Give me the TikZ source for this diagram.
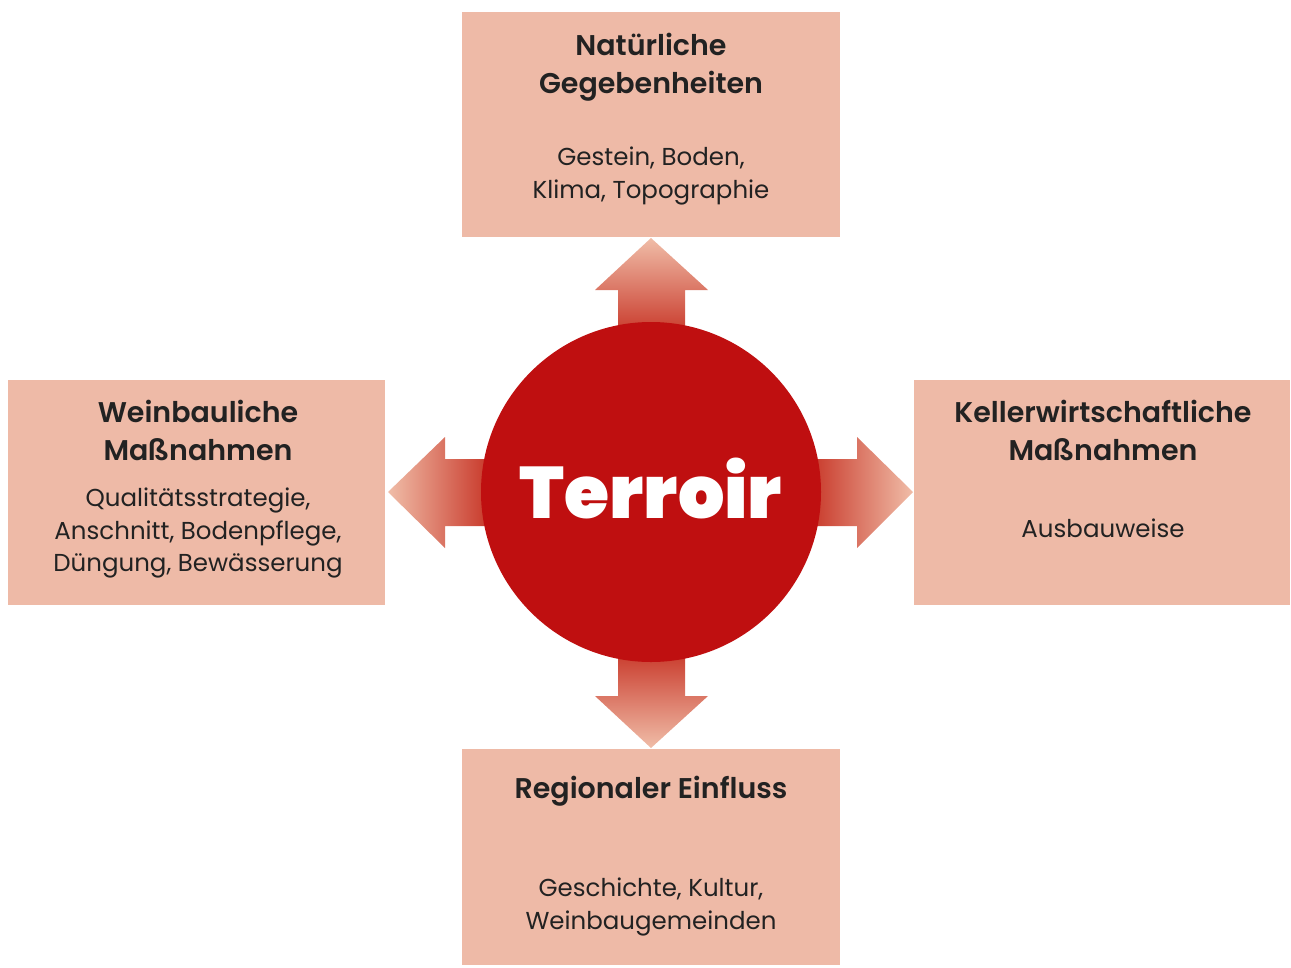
\documentclass[tikz,border=0pt]{standalone}
\usepackage{fontspec}
\setmainfont{Poppins}
\newfontfamily\medfont{Poppins SemiBold}
\newfontfamily\blackfont{Poppins Black}
\definecolor{boxfill}{HTML}{EEBAA7}
\definecolor{circfill}{HTML}{BF0F10}
\definecolor{txt}{HTML}{222222}
\definecolor{arrlight}{HTML}{F0BDA8}
\definecolor{arrdark}{HTML}{C42A1C}
\tikzset{
  box/.style={fill=boxfill, draw=none},
  title/.style={text=txt, align=center, font=\medfont\fontsize{28.5}{38}\selectfont, inner sep=0pt},
  sub/.style={text=txt, align=center, font=\fontsize{24.5}{32.5}\selectfont, inner sep=0pt},
}
\begin{document}
\begin{tikzpicture}[x=1pt,y=-1pt]
\useasboundingbox (0,0) rectangle (1291,967);
% boxes
\fill[box] (462,12) rectangle (840,237);
\fill[box] (8,380) rectangle (385,605);
\fill[box] (914,380) rectangle (1290,605);
\fill[box] (462,749) rectangle (840,965);
% arrows
\shade[top color=arrlight, bottom color=arrdark]
  (618,345) -- (618,290) -- (595,290) -- (651,238) -- (708,290) -- (685,290) -- (685,345) -- cycle;
\shade[bottom color=arrlight, top color=arrdark]
  (618,640) -- (618,696) -- (595,696) -- (651,748) -- (708,696) -- (685,696) -- (685,640) -- cycle;
\shade[left color=arrlight, right color=arrdark]
  (500,459) -- (445,459) -- (445,437) -- (388,492) -- (445,548) -- (445,526) -- (500,526) -- cycle;
\shade[right color=arrlight, left color=arrdark]
  (800,459) -- (857,459) -- (857,437) -- (913,492) -- (857,548) -- (857,526) -- (800,526) -- cycle;
% circle
\node[circle, fill=circfill, minimum size=340pt, inner sep=0pt] (terroir) at (651,492) {};
\node[text=white, font=\blackfont\fontsize{73}{73}\selectfont, inner sep=0pt] (tlabel) at (651,488) {Terroir};
% texts
\node[title] (t1) at (651,67) {Natürliche\\Gegebenheiten};
\node[sub] (s1) at (651,176) {Gestein, Boden,\\Klima, Topographie};
\node[title] (t2) at (198,430) {Weinbauliche\\Maßnahmen};
\node[sub] (s2) at (198,533) {Qualitätsstrategie,\\Anschnitt, Bodenpflege,\\Düngung, Bewässerung};
\node[title] (t3) at (1103,430) {Kellerwirtschaftliche\\Maßnahmen};
\node[sub] (s3) at (1103,528) {Ausbauweise};
\node[title] (t4) at (651,791) {Regionaler Einfluss};
\node[sub] (s4) at (651,907) {Geschichte, Kultur,\\Weinbaugemeinden};
\end{tikzpicture}
\end{document}
